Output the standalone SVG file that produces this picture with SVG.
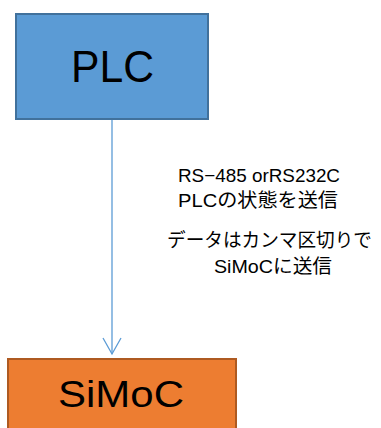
<svg xmlns="http://www.w3.org/2000/svg" width="381" height="428" viewBox="0 0 381 428">
<style>
text{font-family:"Liberation Sans","Noto Sans CJK JP",sans-serif;fill:#000}
.lbl{font-size:19px}
</style>
<rect width="381" height="428" fill="#fff"/>
<g id="connectors">
<line x1="112" y1="120" x2="112" y2="354" stroke="#5B9BD5" stroke-width="1.3"/>
<polyline points="103,338 112,354 121,338" fill="none" stroke="#5B9BD5" stroke-width="1.3"/>
</g>
<g id="plc">
<rect x="16" y="14" width="192" height="105" fill="#5B9BD5" stroke="#41719C" stroke-width="2"/>
<text x="71" y="82" font-size="44" textLength="83" lengthAdjust="spacingAndGlyphs">PLC</text>
</g>
<g id="simoc">
<rect x="8" y="359" width="228" height="80" fill="#ED7D31" stroke="#AE5A21" stroke-width="2"/>
<text x="58" y="407" font-size="36" textLength="126" lengthAdjust="spacingAndGlyphs">SiMoC</text>
</g>
<g id="labels">
<text class="lbl" x="178" y="182" textLength="162" lengthAdjust="spacingAndGlyphs">RS−485 orRS232C</text>
<text class="lbl" x="178" y="207" textLength="160" lengthAdjust="spacingAndGlyphs">PLCの状態を送信</text>
<text class="lbl" x="167" y="247" textLength="205" lengthAdjust="spacingAndGlyphs">データはカンマ区切りで</text>
<text class="lbl" x="214" y="273" textLength="118" lengthAdjust="spacingAndGlyphs">SiMoCに送信</text>
</g>
</svg>
